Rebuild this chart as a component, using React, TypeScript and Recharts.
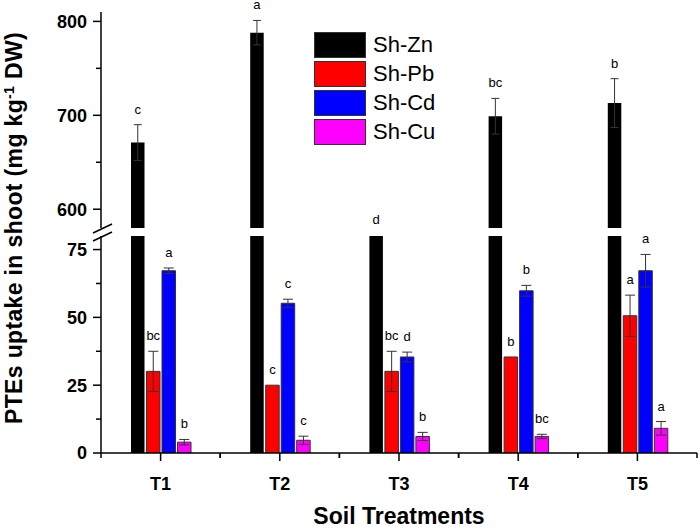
import React from "react";
import {
  Bar,
  BarChart,
  ErrorBar,
  LabelList,
  Legend,
  XAxis,
  YAxis,
} from "recharts";

const categories = ["T1", "T2", "T3", "T4", "T5"];
const seriesNames = ["Sh-Zn", "Sh-Pb", "Sh-Cd", "Sh-Cu"];

const zn = [671, 788, 560, 699, 713];
const znErr = [19, 13, null, 19, 26];
const pb = [30.1, 25, 30.1, 35.4, 50.6];
const pbErr = [7.4, null, 7.4, null, 7.6];
const cd = [67.2, 55.2, 35.4, 59.8, 67.2];
const cdErr = [1, 1.5, 1.8, 2, 6];
const cu = [4, 4.7, 6.1, 6.1, 9.1];
const cuErr = [1, 1.5, 1.5, 0.8, 2.5];

const znSig = ["c", "a", "d", "bc", "b"];
const pbSig = ["bc", "c", "bc", "b", "a"];
const cdSig = ["a", "c", "d", "b", "a"];
const cuSig = ["b", "c", "b", "bc", "a"];

const upperTicks = [600, 650, 700, 750, 800];
const upperMajor = [600, 700, 800];
const lowerTicks = [0, 12.5, 25, 37.5, 50, 62.5, 75];
const lowerMajor = [0, 25, 50, 75];

const W = 700;
const H = 528;
const PLOT_LEFT = 101;
const PLOT_RIGHT = 697;
const UP_TOP = 12;
const UP_BOTTOM = 228;
const LOW_TOP = 236;
const LOW_BOTTOM = 453;
const UP_DOMAIN = [580, 810];
const LOW_DOMAIN = [0, 80];
const FONT = '"Liberation Sans", Arial, sans-serif';
const BAND = (PLOT_RIGHT - PLOT_LEFT) / categories.length;

const rows = categories.map((cat, i) => ({
  cat,
  zn: zn[i],
  znErr: znErr[i],
  znSig: znSig[i],
  pb: pb[i],
  pbErr: pbErr[i],
  pbSig: pbSig[i],
  cd: cd[i],
  cdErr: cdErr[i],
  cdSig: cdSig[i],
  cu: cu[i],
  cuErr: cuErr[i],
  cuSig: cuSig[i],
}));

const upPx = (UP_BOTTOM - UP_TOP) / (UP_DOMAIN[1] - UP_DOMAIN[0]);
const lowPx = (LOW_BOTTOM - LOW_TOP) / (LOW_DOMAIN[1] - LOW_DOMAIN[0]);

// letter above the error bar; clamps to the bottom of the panel when the bar is hidden
function sigLabel(errs: (number | null)[], px: number, bottom: number) {
  return (props: any) => {
    const { x, y, width, height, value, index } = props;
    const top = Math.min(y, y + height);
    const err = errs[index] ?? 0;
    const base = top >= bottom - 0.5 ? bottom - 4 : top - err * px - 11;
    return (
      <text
        x={x + width / 2}
        y={base}
        textAnchor="middle"
        fontSize={13}
        fontFamily={FONT}
        style={{ fill: "#000" }}
      >
        {value}
      </text>
    );
  };
}

function yTick(majors: number[]) {
  return (props: any) => {
    const { y, payload } = props;
    const major = majors.includes(payload.value);
    return (
      <g>
        <line
          x1={PLOT_LEFT - (major ? 8 : 5)}
          x2={PLOT_LEFT}
          y1={y}
          y2={y}
          stroke="#000"
          strokeWidth={1.5}
        />
        {major && (
          <text
            x={PLOT_LEFT - 14}
            y={y}
            dy="0.36em"
            textAnchor="end"
            fontSize={18}
            fontWeight="bold"
            fontFamily={FONT}
            style={{ fill: "#000" }}
          >
            {payload.value}
          </text>
        )}
      </g>
    );
  };
}

function XTick(props: any) {
  const { x, payload } = props;
  return (
    <g>
      <line x1={x} x2={x} y1={LOW_BOTTOM} y2={LOW_BOTTOM + 8} stroke="#000" strokeWidth={1.5} />
      <line x1={x - BAND / 2} x2={x - BAND / 2} y1={LOW_BOTTOM} y2={LOW_BOTTOM + 5} stroke="#000" strokeWidth={1.5} />
      <line x1={x + BAND / 2} x2={x + BAND / 2} y1={LOW_BOTTOM} y2={LOW_BOTTOM + 5} stroke="#000" strokeWidth={1.5} />
      <text
        x={x}
        y={LOW_BOTTOM + 37}
        textAnchor="middle"
        fontSize={18}
        fontWeight="bold"
        fontFamily={FONT}
        style={{ fill: "#000" }}
      >
        {payload.value}
      </text>
    </g>
  );
}

function LegendBox(props: any) {
  const items = [...(props.payload || [])].sort(
    (a: any, b: any) => seriesNames.indexOf(a.value) - seriesNames.indexOf(b.value)
  );
  return (
    <div style={{ fontFamily: FONT }}>
      {items.map((p: any) => (
        <div key={p.value} style={{ display: "flex", alignItems: "center", height: 26, marginBottom: 3 }}>
          <div
            style={{
              width: 50,
              height: 24,
              background: p.color,
              border: "1px solid #333",
            }}
          />
          <span style={{ fontSize: 22, marginLeft: 7, color: "#000" }}>{p.value}</span>
        </div>
      ))}
    </div>
  );
}

function YTitle() {
  const cx = 22;
  const cy = 228;
  return (
    <text
      x={cx}
      y={cy}
      transform={`rotate(-90, ${cx}, ${cy})`}
      textAnchor="middle"
      fontSize={23}
      letterSpacing={0.35}
      fontWeight="bold"
      fontFamily={FONT}
      style={{ fill: "#000" }}
    >
      PTEs uptake in shoot (mg kg
      <tspan dy={-8} fontSize={14}>-1</tspan>
      <tspan dy={8}> DW)</tspan>
    </text>
  );
}

function XTitle() {
  return (
    <text
      x={(PLOT_LEFT + PLOT_RIGHT) / 2}
      y={524}
      textAnchor="middle"
      fontSize={23}
      fontWeight="bold"
      fontFamily={FONT}
      style={{ fill: "#000" }}
    >
      Soil Treatments
    </text>
  );
}

const barProps = { barSize: 13.5, barGap: 2 };
const errStyle = { stroke: "#333", strokeWidth: 1, width: 5 };

export default function App() {
  return (
    <div style={{ position: "absolute", left: 0, top: 0, width: W, height: H, background: "#fff" }}>
      <div style={{ position: "absolute", left: 0, top: 0 }}>
        <BarChart
          width={W}
          height={H}
          data={rows}
          {...barProps}
          margin={{ top: LOW_TOP, right: W - PLOT_RIGHT, bottom: H - LOW_BOTTOM - 30, left: 0 }}
        >
          <XAxis
            dataKey="cat"
            height={30}
            axisLine={{ stroke: "#000", strokeWidth: 1.5 }}
            tickLine={false}
            tick={<XTick />}
            interval={0}
            label={{ content: <XTitle /> }}
          />
          <YAxis
            width={PLOT_LEFT}
            domain={LOW_DOMAIN}
            ticks={lowerTicks}
            allowDataOverflow
            axisLine={{ stroke: "#000", strokeWidth: 1.5 }}
            tickLine={false}
            tick={yTick(lowerMajor)}
            label={{ content: <YTitle /> }}
          />
          <Bar dataKey="zn" name="Sh-Zn" fill="#000" isAnimationActive={false} />
          <Bar dataKey="pb" name="Sh-Pb" fill="#ff0000" stroke="#333" strokeWidth={1} isAnimationActive={false}>
            <ErrorBar dataKey="pbErr" direction="y" {...errStyle} isAnimationActive={false} />
            <LabelList dataKey="pbSig" content={sigLabel(pbErr, lowPx, LOW_BOTTOM)} />
          </Bar>
          <Bar dataKey="cd" name="Sh-Cd" fill="#0000ff" stroke="#333" strokeWidth={1} isAnimationActive={false}>
            <ErrorBar dataKey="cdErr" direction="y" {...errStyle} isAnimationActive={false} />
            <LabelList dataKey="cdSig" content={sigLabel(cdErr, lowPx, LOW_BOTTOM)} />
          </Bar>
          <Bar dataKey="cu" name="Sh-Cu" fill="#ff00ff" stroke="#333" strokeWidth={1} isAnimationActive={false}>
            <ErrorBar dataKey="cuErr" direction="y" {...errStyle} isAnimationActive={false} />
            <LabelList dataKey="cuSig" content={sigLabel(cuErr, lowPx, LOW_BOTTOM)} />
          </Bar>
        </BarChart>
      </div>
      <div style={{ position: "absolute", left: 0, top: 0 }}>
        <BarChart
          width={W}
          height={H}
          data={rows}
          {...barProps}
          margin={{ top: UP_TOP, right: W - PLOT_RIGHT, bottom: H - UP_BOTTOM, left: 0 }}
        >
          <XAxis dataKey="cat" hide />
          <YAxis
            width={PLOT_LEFT}
            domain={UP_DOMAIN}
            ticks={upperTicks}
            allowDataOverflow
            axisLine={{ stroke: "#000", strokeWidth: 1.5 }}
            tickLine={false}
            tick={yTick(upperMajor)}
          />
          <Legend
            layout="vertical"
            align="center"
            verticalAlign="middle"
            wrapperStyle={{ left: 314, top: 32, width: "auto" }}
            content={<LegendBox />}
          />
          <Bar dataKey="zn" name="Sh-Zn" fill="#000" isAnimationActive={false}>
            <ErrorBar dataKey="znErr" direction="y" stroke="#333" strokeWidth={1} width={4} isAnimationActive={false} />
            <LabelList dataKey="znSig" content={sigLabel(znErr, upPx, UP_BOTTOM)} />
          </Bar>
          <Bar dataKey="pb" name="Sh-Pb" fill="#ff0000" stroke="#333" strokeWidth={0} isAnimationActive={false} />
          <Bar dataKey="cd" name="Sh-Cd" fill="#0000ff" stroke="#333" strokeWidth={0} isAnimationActive={false} />
          <Bar dataKey="cu" name="Sh-Cu" fill="#ff00ff" stroke="#333" strokeWidth={0} isAnimationActive={false} />
        </BarChart>
      </div>
      <svg
        width={W}
        height={H}
        style={{ position: "absolute", left: 0, top: 0, pointerEvents: "none" }}
      >
        <line x1={93} y1={233} x2={112} y2={224} stroke="#000" strokeWidth={1.5} />
        <line x1={93} y1={241} x2={112} y2={232} stroke="#000" strokeWidth={1.5} />
      </svg>
    </div>
  );
}
